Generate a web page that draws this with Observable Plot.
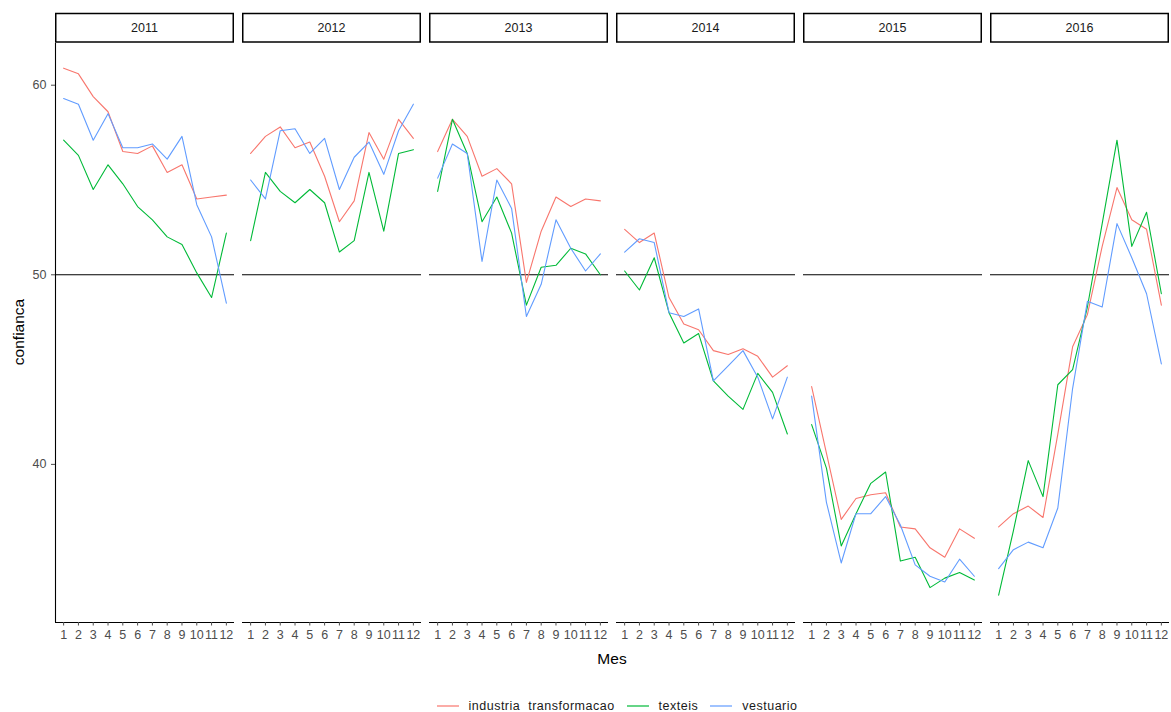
<!DOCTYPE html>
<html>
<head>
<meta charset="utf-8">
<script src="https://cdn.jsdelivr.net/npm/d3@7"></script>
<script src="https://cdn.jsdelivr.net/npm/@observablehq/plot@0.6"></script>
<style>
  body { margin: 0; background: #fff; font-family: "Liberation Sans", Arial, sans-serif; }
  #chart svg { display: block; }
  #legend {
    width: 1171px; height: 20px; margin-top: 24px; box-sizing: border-box; padding-left: 63px;
    display: flex; justify-content: center; align-items: center;
    font-size: 12.5px; letter-spacing: 0.5px; color: #1a1a1a;
  }
  #legend .item { display: flex; align-items: center; margin: 0 6px; }
  #legend .item svg { margin-right: 10px; }
</style>
</head>
<body>
<div id="chart"></div>
<div id="legend"></div>
<script>
// Facets (years), x positions (months) and series names
const years = [2011, 2012, 2013, 2014, 2015, 2016];
const months = [1, 2, 3, 4, 5, 6, 7, 8, 9, 10, 11, 12];
const seriesNames = ["industria  transformacao", "texteis", "vestuario"];
const yTicks = [40, 50, 60];
const threshold = [50];

// Confidence index by month, one row per year (2011..2016)
const industria = [
  [60.9, 60.6, 59.4, 58.6, 56.5, 56.4, 56.8, 55.4, 55.8, 54.0, 54.1, 54.2],
  [56.4, 57.3, 57.8, 56.7, 57.0, 55.2, 52.8, 53.9, 57.5, 56.1, 58.2, 57.2],
  [56.5, 58.2, 57.3, 55.2, 55.6, 54.8, 49.6, 52.3, 54.1, 53.6, 54.0, 53.9],
  [52.4, 51.7, 52.2, 48.8, 47.4, 47.1, 46.0, 45.8, 46.1, 45.7, 44.6, 45.2],
  [44.1, 40.6, 37.1, 38.2, 38.4, 38.5, 36.7, 36.6, 35.6, 35.1, 36.6, 36.1],
  [36.7, 37.4, 37.8, 37.2, 41.6, 46.2, 47.9, 51.5, 54.6, 52.9, 52.4, 48.4]
];
const texteis = [
  [57.1, 56.3, 54.5, 55.8, 54.8, 53.6, 52.9, 52.0, 51.6, 50.1, 48.8, 52.2],
  [51.8, 55.4, 54.4, 53.8, 54.5, 53.8, 51.2, 51.8, 55.4, 52.3, 56.4, 56.6],
  [54.4, 58.2, 56.4, 52.8, 54.1, 52.2, 48.4, 50.4, 50.5, 51.4, 51.1, 50.0],
  [50.2, 49.2, 50.9, 48.0, 46.4, 46.9, 44.4, 43.6, 42.9, 44.8, 43.8, 41.6],
  [42.1, 39.8, 35.7, 37.4, 39.0, 39.6, 34.9, 35.1, 33.5, 34.0, 34.3, 33.9],
  [33.1, 36.5, 40.2, 38.3, 44.2, 45.0, 48.3, 52.7, 57.1, 51.5, 53.3, 49.0]
];
const vestuario = [
  [59.3, 59.0, 57.1, 58.5, 56.7, 56.7, 56.9, 56.1, 57.3, 53.7, 52.0, 48.5],
  [55.0, 54.0, 57.6, 57.7, 56.4, 57.2, 54.5, 56.2, 57.0, 55.3, 57.6, 59.0],
  [55.1, 56.9, 56.4, 50.7, 55.0, 53.5, 47.8, 49.5, 52.9, 51.4, 50.2, 51.1],
  [51.2, 51.9, 51.7, 48.0, 47.8, 48.2, 44.4, 45.2, 46.0, 44.6, 42.4, 44.6],
  [43.6, 38.0, 34.8, 37.4, 37.4, 38.3, 36.8, 34.7, 34.1, 33.8, 35.0, 34.1],
  [34.5, 35.5, 35.9, 35.6, 37.7, 44.0, 48.6, 48.3, 52.7, 50.9, 49.0, 45.3]
];

const colors = ["#F8766D", "#00BA38", "#619CFF"];

// Long-format table for Plot
const rows = [];
[industria, texteis, vestuario].forEach((serie, k) =>
  serie.forEach((vals, i) =>
    vals.forEach((v, j) =>
      rows.push({serie: seriesNames[k], year: years[i], month: months[j], value: v}))));

// Expanded scale domains (5% padding on each side)
const xDomain = [0.45, 12.55];
const yDomain = [31.66, 62.2];

const W = 1171, H = 672;
const font = '"Liberation Sans", Arial, sans-serif';

const plot = Plot.plot({
  width: W, height: H,
  marginLeft: 53, marginRight: 0, marginTop: 43, marginBottom: 50,
  style: {fontFamily: font, fontSize: "12.5px", background: "#fff", color: "#4D4D4D"},
  fx: {domain: years, paddingInner: 0.043, paddingOuter: 0, axis: null, label: null},
  x: {domain: xDomain, axis: null},
  y: {domain: yDomain, axis: null},
  color: {domain: seriesNames, range: colors},
  marks: [
    Plot.ruleY(threshold, {stroke: "#000", strokeWidth: 1.1}),
    Plot.line(rows, {fx: "year", x: "month", y: "value", z: "serie", stroke: "serie", strokeWidth: 1.1}),
    // bottom axis line under every panel
    Plot.ruleY([yDomain[0]], {stroke: "#000", strokeWidth: 1.1}),
    // left axis line on the first panel only
    Plot.ruleX([years[0]], {fx: d => d, x: () => xDomain[0], stroke: "#000", strokeWidth: 1.1}),
    Plot.axisX({ticks: months, tickSize: 3.5, tickPadding: 4, label: null, color: "#4D4D4D", fontSize: 12.5}),
    Plot.axisY({ticks: yTicks, tickSize: 4, tickPadding: 5, label: null, color: "#4D4D4D", fontSize: 12.5})
  ]
});

document.getElementById("chart").appendChild(plot);

// Facet strips with boxed year labels
const svg = d3.select(plot);
const fx = plot.scale("fx");
const strips = svg.append("g");
years.forEach(yr => {
  const x0 = fx.apply(yr);
  strips.append("rect")
    .attr("x", x0 + 0.75).attr("y", 13.5)
    .attr("width", fx.bandwidth - 1.5).attr("height", 28.5)
    .attr("fill", "#fff").attr("stroke", "#000").attr("stroke-width", 1.5);
  strips.append("text")
    .attr("x", x0 + fx.bandwidth / 2).attr("y", 28)
    .attr("text-anchor", "middle").attr("dominant-baseline", "central")
    .attr("font-family", font).attr("font-size", 12.5).attr("fill", "#1A1A1A")
    .text(yr);
});

// Axis titles
svg.append("text")
  .attr("transform", "translate(18,332) rotate(-90)")
  .attr("text-anchor", "middle").attr("dominant-baseline", "central")
  .attr("font-family", font).attr("font-size", 15.5).attr("fill", "#000")
  .text("confianca");
svg.append("text")
  .attr("x", 612).attr("y", 658)
  .attr("text-anchor", "middle").attr("dominant-baseline", "central")
  .attr("font-family", font).attr("font-size", 15.5).attr("fill", "#000")
  .text("Mes");

// Legend with line keys
const legend = d3.select("#legend");
seriesNames.forEach((name, i) => {
  const item = legend.append("div").attr("class", "item");
  const key = item.append("svg").attr("width", 22).attr("height", 12);
  key.append("line").attr("x1", 0).attr("x2", 22).attr("y1", 6).attr("y2", 6)
    .attr("stroke", colors[i]).attr("stroke-width", 1.2);
  item.append("span").style("white-space", "pre").text(name);
});
</script>
</body>
</html>
